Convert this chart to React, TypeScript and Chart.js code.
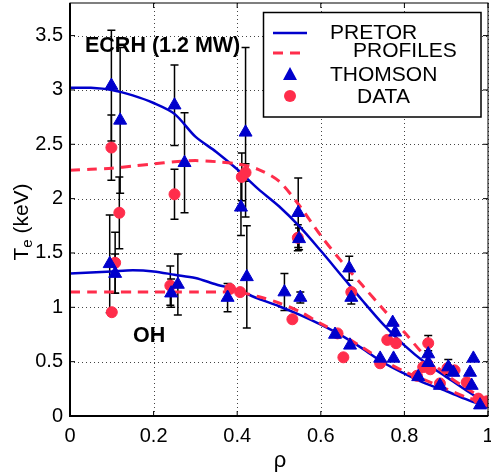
import React, { useEffect, useRef } from 'react';
import { Chart, registerables } from 'chart.js';
Chart.register(...registerables);

const xTicks = [0, 0.2, 0.4, 0.6, 0.8, 1];
const yTicks = [0, 0.5, 1, 1.5, 2, 2.5, 3, 3.5];

const profileRho = [0, 0.05, 0.1, 0.15, 0.2, 0.25, 0.3, 0.35, 0.4, 0.45, 0.5, 0.55, 0.6, 0.65, 0.7, 0.75, 0.8, 0.85, 0.9, 0.95, 1.0];
const ecrhPretor = [3.02, 3.02, 3.0, 2.95, 2.88, 2.78, 2.57, 2.43, 2.27, 2.09, 1.93, 1.74, 1.52, 1.29, 1.06, 0.84, 0.65, 0.49, 0.36, 0.23, 0.11];
const ecrhProfiles = [2.26, 2.27, 2.28, 2.3, 2.32, 2.34, 2.35, 2.34, 2.32, 2.27, 2.16, 1.93, 1.66, 1.42, 1.2, 0.98, 0.77, 0.55, 0.38, 0.25, 0.14];
const ohPretor = [1.31, 1.32, 1.33, 1.34, 1.33, 1.3, 1.27, 1.21, 1.16, 1.08, 1.01, 0.93, 0.84, 0.74, 0.62, 0.49, 0.39, 0.3, 0.23, 0.15, 0.08];
const ohProfiles = [1.14, 1.14, 1.14, 1.14, 1.14, 1.14, 1.14, 1.14, 1.14, 1.1, 1.04, 0.96, 0.85, 0.75, 0.63, 0.51, 0.41, 0.33, 0.25, 0.17, 0.12];

const ecrhThomsonRho = [0.099, 0.12, 0.25, 0.274, 0.42, 0.409, 0.546, 0.548, 0.668, 0.673, 0.772, 0.778, 0.857, 0.857, 0.905, 0.965, 0.957, 0.981];
const ecrhThomsonTe = [3.04, 2.72, 2.86, 2.33, 2.61, 1.92, 1.87, 1.63, 1.36, 1.09, 0.86, 0.77, 0.57, 0.49, 0.45, 0.53, 0.4, 0.1];
const ecrhThomsonErr = [0.51, 0.67, 0.37, 0.46, 0.78, 0.26, 0.32, 0.1, 0.11, 0.06, 0, 0, 0, 0, 0.07, 0, 0, 0];

const ohThomsonRho = [0.095, 0.108, 0.242, 0.258, 0.377, 0.423, 0.513, 0.551, 0.634, 0.67, 0.742, 0.774, 0.833, 0.885, 0.917, 0.961];
const ohThomsonTe = [1.4, 1.31, 1.13, 1.21, 1.09, 1.28, 1.14, 1.09, 0.75, 0.65, 0.53, 0.53, 0.36, 0.28, 0.4, 0.28];
const ohThomsonErr = [0.45, 0.18, 0.13, 0.28, 0.13, 0.47, 0.17, 0.05, 0, 0, 0, 0, 0, 0, 0, 0];

const ecrhDataRho = [0.099, 0.118, 0.25, 0.411, 0.42, 0.545, 0.673, 0.759, 0.78, 0.857, 0.845, 0.862, 0.903, 0.92, 0.949, 0.977, 0.997];
const ecrhDataTe = [2.47, 1.87, 2.04, 2.2, 2.24, 1.64, 1.14, 0.7, 0.67, 0.67, 0.45, 0.43, 0.44, 0.42, 0.31, 0.16, 0.135];
const ecrhDataErr = [0.3, 0.33, 0.23, 0.22, 0.08, 0.12, 0, 0, 0, 0.07, 0, 0, 0, 0, 0, 0, 0];

const ohDataRho = [0.108, 0.1, 0.24, 0.383, 0.407, 0.532, 0.64, 0.654, 0.742, 0.83, 0.885];
const ohDataTe = [1.41, 0.955, 1.2, 1.17, 1.14, 0.89, 0.76, 0.54, 0.485, 0.37, 0.3];
const ohDataErr = [0.28, 0.03, 0.18, 0, 0, 0, 0, 0, 0, 0, 0];

const BLUE = '#0000CC';
const RED = '#FF2D4B';
const FONT = "'Liberation Sans', Arial, sans-serif";

const pts = (xs: number[], ys: number[]) => xs.map((x, i) => ({ x, y: ys[i] }));

const gridAndErrorPlugin = {
  id: 'gridErrors',
  beforeDatasetsDraw(chart: any) {
    const { ctx, scales, chartArea: a } = chart;
    const sx = scales.x, sy = scales.y;
    ctx.save();
    // dotted grid
    ctx.strokeStyle = '#444';
    ctx.lineWidth = 1;
    ctx.setLineDash([1, 3]);
    ctx.beginPath();
    xTicks.forEach((v) => {
      const px = Math.round(sx.getPixelForValue(v)) + 0.5;
      ctx.moveTo(px, a.bottom); ctx.lineTo(px, a.top);
    });
    yTicks.forEach((v) => {
      const py = Math.round(sy.getPixelForValue(v)) + 0.5;
      ctx.moveTo(a.left, py); ctx.lineTo(a.right, py);
    });
    ctx.stroke();
    ctx.setLineDash([]);

    const groups = [
      [ecrhThomsonRho, ecrhThomsonTe, ecrhThomsonErr],
      [ohThomsonRho, ohThomsonTe, ohThomsonErr],
      [ecrhDataRho, ecrhDataTe, ecrhDataErr],
      [ohDataRho, ohDataTe, ohDataErr],
    ];
    ctx.strokeStyle = '#000';
    ctx.lineWidth = 1.5;
    for (const [xs, ys, es] of groups) {
      xs.forEach((x: number, i: number) => {
        const e = es[i];
        if (!e) return;
        const px = sx.getPixelForValue(x);
        const p1 = sy.getPixelForValue(ys[i] + e);
        const p2 = sy.getPixelForValue(ys[i] - e);
        ctx.beginPath();
        ctx.moveTo(px, p1); ctx.lineTo(px, p2);
        ctx.moveTo(px - 4, p1); ctx.lineTo(px + 4, p1);
        ctx.moveTo(px - 4, p2); ctx.lineTo(px + 4, p2);
        ctx.stroke();
      });
    }
    ctx.restore();
  },
};

const decorPlugin = {
  id: 'decor',
  afterDraw(chart: any) {
    const { ctx, chartArea: a, scales } = chart;
    ctx.save();
    // frame
    ctx.strokeStyle = '#000';
    ctx.lineWidth = 1;
    ctx.strokeRect(a.left, a.top, a.right - a.left, a.bottom - a.top);
    ctx.lineWidth = 2;
    ctx.beginPath();
    ctx.moveTo(a.left, a.top); ctx.lineTo(a.left, a.bottom); ctx.lineTo(a.right, a.bottom);
    ctx.stroke();
    // inward ticks
    ctx.lineWidth = 1;
    ctx.beginPath();
    xTicks.forEach((v) => {
      const px = scales.x.getPixelForValue(v);
      ctx.moveTo(px, a.bottom); ctx.lineTo(px, a.bottom - 5);
      ctx.moveTo(px, a.top); ctx.lineTo(px, a.top + 5);
    });
    yTicks.forEach((v) => {
      const py = scales.y.getPixelForValue(v);
      ctx.moveTo(a.left, py); ctx.lineTo(a.left + 5, py);
      ctx.moveTo(a.right, py); ctx.lineTo(a.right - 5, py);
    });
    ctx.stroke();

    // annotations
    ctx.fillStyle = '#000';
    ctx.font = `bold 21.5px ${FONT}`;
    ctx.textBaseline = 'middle';
    ctx.textAlign = 'left';
    ctx.fillText('ECRH (1.2 MW)', 85, 46);
    ctx.fillText('OH', 133, 336);

    // legend
    const L = 263.5, T = 12.5, R = 481, B = 117;
    ctx.fillStyle = '#fff';
    ctx.fillRect(L, T, R - L, B - T);
    ctx.strokeStyle = '#000';
    ctx.lineWidth = 1.5;
    ctx.strokeRect(L, T, R - L, B - T);
    ctx.lineWidth = 2.5;
    ctx.strokeStyle = BLUE;
    ctx.beginPath(); ctx.moveTo(273, 33); ctx.lineTo(307, 33); ctx.stroke();
    ctx.strokeStyle = RED;
    ctx.lineWidth = 3;
    ctx.setLineDash([10, 7]);
    ctx.beginPath(); ctx.moveTo(273, 53); ctx.lineTo(307, 53); ctx.stroke();
    ctx.setLineDash([]);
    ctx.fillStyle = BLUE;
    ctx.beginPath();
    ctx.moveTo(290, 67); ctx.lineTo(297, 80); ctx.lineTo(283, 80); ctx.closePath(); ctx.fill();
    ctx.fillStyle = RED;
    ctx.beginPath(); ctx.arc(290, 96, 6, 0, Math.PI * 2); ctx.fill();
    ctx.fillStyle = '#000';
    ctx.font = `21px ${FONT}`;
    ctx.fillText('PRETOR', 330, 33);
    ctx.fillText('PROFILES', 353, 51);
    ctx.fillText('THOMSON', 330, 75);
    ctx.fillText('DATA', 357, 97);

    // axis titles
    ctx.font = `22px ${FONT}`;
    ctx.textAlign = 'center';
    ctx.fillText('ρ', 280, 461);
    ctx.translate(22, 222);
    ctx.rotate(-Math.PI / 2);
    ctx.textAlign = 'left';
    ctx.font = `21px ${FONT}`;
    const t1 = 'T';
    const w1 = ctx.measureText(t1).width;
    ctx.font = `15px ${FONT}`;
    const w2 = ctx.measureText('e').width;
    ctx.font = `21px ${FONT}`;
    const t3 = ' (keV)';
    const w3 = ctx.measureText(t3).width;
    const total = w1 + w2 + w3;
    let x0 = -total / 2;
    ctx.fillText(t1, x0, 0);
    x0 += w1;
    ctx.font = `15px ${FONT}`;
    ctx.fillText('e', x0, 6);
    x0 += w2;
    ctx.font = `21px ${FONT}`;
    ctx.fillText(t3, x0, 0);
    ctx.restore();
  },
};

export default function App() {
  const ref = useRef<HTMLCanvasElement>(null);
  useEffect(() => {
    if (!ref.current) return;
    const chart = new Chart(ref.current, {
      type: 'scatter',
      data: {
        datasets: [
          { type: 'scatter', label: 'THOMSON', data: pts(ecrhThomsonRho, ecrhThomsonTe), pointStyle: 'triangle', pointRadius: 7.5, backgroundColor: BLUE, borderColor: BLUE, borderWidth: 1, order: 0 },
          { type: 'scatter', label: 'THOMSON', data: pts(ohThomsonRho, ohThomsonTe), pointStyle: 'triangle', pointRadius: 7.5, backgroundColor: BLUE, borderColor: BLUE, borderWidth: 1, order: 0 },
          { type: 'scatter', label: 'DATA', data: pts(ecrhDataRho, ecrhDataTe), pointStyle: 'circle', pointRadius: 5.5, backgroundColor: RED, borderColor: RED, borderWidth: 1, order: 1 },
          { type: 'scatter', label: 'DATA', data: pts(ohDataRho, ohDataTe), pointStyle: 'circle', pointRadius: 5.5, backgroundColor: RED, borderColor: RED, borderWidth: 1, order: 1 },
          { type: 'line', label: 'PROFILES', data: pts(profileRho, ecrhProfiles), borderColor: RED, borderWidth: 3, borderDash: [10, 7], pointRadius: 0, tension: 0.3, fill: false, order: 2 },
          { type: 'line', label: 'PROFILES', data: pts(profileRho, ohProfiles), borderColor: RED, borderWidth: 3, borderDash: [10, 7], pointRadius: 0, tension: 0.3, fill: false, order: 2 },
          { type: 'line', label: 'PRETOR', data: pts(profileRho, ecrhPretor), borderColor: BLUE, borderWidth: 2.5, pointRadius: 0, tension: 0.3, fill: false, order: 3 },
          { type: 'line', label: 'PRETOR', data: pts(profileRho, ohPretor), borderColor: BLUE, borderWidth: 2.5, pointRadius: 0, tension: 0.3, fill: false, order: 3 },
        ] as any,
      },
      options: {
        animation: false,
        responsive: false,
        layout: { autoPadding: false, padding: { top: 3, right: 3, left: 0, bottom: 0 } },
        plugins: { legend: { display: false }, tooltip: { enabled: false } },
        scales: {
          x: {
            type: 'linear', min: 0, max: 1,
            afterFit: (s: any) => { s.height = 58; s.paddingLeft = 0; s.paddingRight = 0; },
            afterBuildTicks: (s: any) => { s.ticks = xTicks.map((v) => ({ value: v })); },
            grid: { display: false, drawTicks: false },
            border: { display: false },
            ticks: { padding: 8, color: '#000', font: { family: FONT, size: 20 }, callback: (v: any) => String(v), maxRotation: 0 },
          },
          y: {
            type: 'linear', min: 0, max: 3.8,
            afterFit: (s: any) => { s.width = 70; s.paddingTop = 0; s.paddingBottom = 0; },
            afterBuildTicks: (s: any) => { s.ticks = yTicks.map((v) => ({ value: v })); },
            grid: { display: false, drawTicks: false },
            border: { display: false },
            ticks: { padding: 7, color: '#000', font: { family: FONT, size: 20 }, callback: (v: any) => String(v) },
          },
        },
      } as any,
      plugins: [gridAndErrorPlugin, decorPlugin],
    });
    return () => chart.destroy();
  }, []);
  return (
    <div style={{ position: 'fixed', left: 0, top: 0, width: 491, height: 474, background: '#fff' }}>
      <canvas ref={ref} width={491} height={474} />
    </div>
  );
}
